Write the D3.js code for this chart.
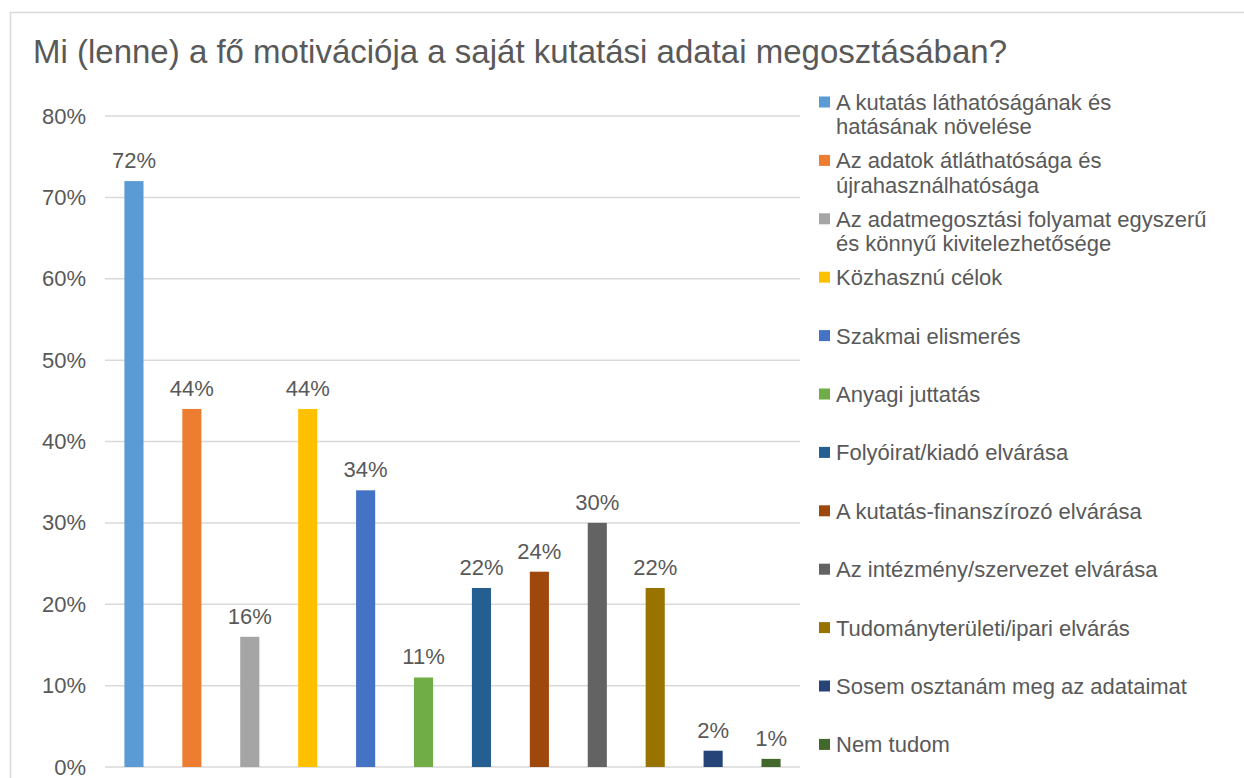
<!DOCTYPE html>
<html>
<head>
<meta charset="utf-8">
<script src="https://cdn.jsdelivr.net/npm/d3@7"></script>
<style>
  html, body { margin: 0; padding: 0; background: #fff; }
  svg { display: block; font-family: "Liberation Sans", Arial, sans-serif; }
</style>
</head>
<body>
<svg id="chart" width="1244" height="778"></svg>
<script>
const title = "Mi (lenne) a fő motivációja a saját kutatási adatai megosztásában?";
const categories = [
  "A kutatás láthatóságának és hatásának növelése",
  "Az adatok átláthatósága és újrahasználhatósága",
  "Az adatmegosztási folyamat egyszerű és könnyű kivitelezhetősége",
  "Közhasznú célok",
  "Szakmai elismerés",
  "Anyagi juttatás",
  "Folyóirat/kiadó elvárása",
  "A kutatás-finanszírozó elvárása",
  "Az intézmény/szervezet elvárása",
  "Tudományterületi/ipari elvárás",
  "Sosem osztanám meg az adataimat",
  "Nem tudom"
];
const legendLines = [
  ["A kutatás láthatóságának és", "hatásának növelése"],
  ["Az adatok átláthatósága és", "újrahasználhatósága"],
  ["Az adatmegosztási folyamat egyszerű", "és könnyű kivitelezhetősége"],
  ["Közhasznú célok"],
  ["Szakmai elismerés"],
  ["Anyagi juttatás"],
  ["Folyóirat/kiadó elvárása"],
  ["A kutatás-finanszírozó elvárása"],
  ["Az intézmény/szervezet elvárása"],
  ["Tudományterületi/ipari elvárás"],
  ["Sosem osztanám meg az adataimat"],
  ["Nem tudom"]
];
const values = [72, 44, 16, 44, 34, 11, 22, 24, 30, 22, 2, 1];
const colors = ["#5B9BD5", "#ED7D31", "#A5A5A5", "#FFC000", "#4472C4", "#70AD47",
                "#255E91", "#9E480E", "#636363", "#997300", "#264478", "#43682B"];
const yTicks = [0, 10, 20, 30, 40, 50, 60, 70, 80];

const svg = d3.select("#chart");
const textColor = "#595959";
const gridColor = "#d9d9d9";

// frame
svg.append("rect")
  .attr("x", 10.5).attr("y", 12.5)
  .attr("width", 1300).attr("height", 900)
  .attr("fill", "none").attr("stroke", gridColor).attr("stroke-width", 1.5);

// title
svg.append("text")
  .attr("x", 33).attr("y", 63)
  .attr("fill", textColor)
  .attr("font-size", 33)
  .text(title);

const plot = { left: 105, right: 800, top: 116, bottom: 767 };

const x = d3.scaleBand()
  .domain(categories)
  .range([plot.left, plot.right])
  .paddingInner(0.67).paddingOuter(0.335);

const y = d3.scaleLinear()
  .domain([0, 80])
  .range([plot.bottom, plot.top]);

// gridlines
svg.append("g")
  .selectAll("line")
  .data(yTicks)
  .join("line")
  .attr("x1", plot.left).attr("x2", plot.right)
  .attr("y1", d => y(d)).attr("y2", d => y(d))
  .attr("stroke", gridColor).attr("stroke-width", 1.5);

// y axis labels
const yAxis = d3.axisLeft(y).tickValues(yTicks).tickFormat(d => d + "%").tickSize(0).tickPadding(0);
const yg = svg.append("g").attr("transform", `translate(86,0)`).call(yAxis);
yg.select(".domain").remove();
yg.selectAll("text")
  .attr("fill", textColor)
  .attr("font-size", 22)
  .attr("font-family", "Liberation Sans, Arial, sans-serif");

// bars
svg.append("g")
  .selectAll("rect")
  .data(values)
  .join("rect")
  .attr("x", (d, i) => x(categories[i]))
  .attr("width", x.bandwidth())
  .attr("y", d => y(d))
  .attr("height", d => y(0) - y(d))
  .attr("fill", (d, i) => colors[i]);

// data labels
svg.append("g")
  .selectAll("text")
  .data(values)
  .join("text")
  .attr("x", (d, i) => x(categories[i]) + x.bandwidth() / 2)
  .attr("y", d => y(d) - 13)
  .attr("text-anchor", "middle")
  .attr("fill", textColor)
  .attr("font-size", 22)
  .text(d => d + "%");

// legend
const legend = svg.append("g");
const legStartY = 102, legStep = 58.4, lineH = 24.5;
legendLines.forEach((lines, i) => {
  const cy = legStartY + i * legStep;
  legend.append("rect")
    .attr("x", 819).attr("y", cy - 5.5)
    .attr("width", 11).attr("height", 11)
    .attr("fill", colors[i]);
  const t = legend.append("text")
    .attr("x", 836).attr("y", cy)
    .attr("fill", textColor)
    .attr("font-size", 22);
  lines.forEach((ln, j) => {
    t.append("tspan").attr("x", 836).attr("dy", j === 0 ? "0.36em" : lineH).text(ln);
  });
});
</script>
</body>
</html>
